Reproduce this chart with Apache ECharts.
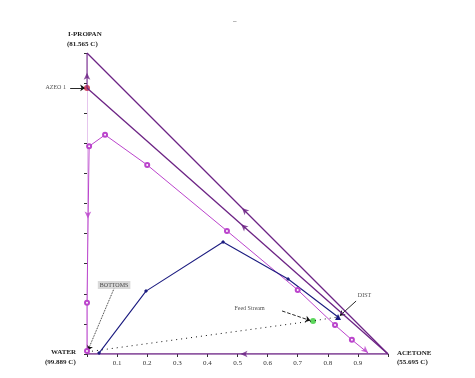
<!DOCTYPE html>
<html>
<head>
<meta charset="utf-8">
<script src="https://cdn.jsdelivr.net/npm/echarts@6/dist/echarts.min.js"></script>
<style>
  html, body { margin: 0; padding: 0; background: #fff; }
  #chart { width: 475px; height: 378px; }
</style>
</head>
<body>
<div id="chart"></div>
<script>
// ternary data: x = acetone fraction, y = isopropanol fraction
var xTicks = [0.1, 0.2, 0.3, 0.4, 0.5, 0.6, 0.7, 0.8, 0.9];
var outerEdge = [[0, 1], [1, 0]];
var azeoLine = [[0, 0.884], [1, 0]];
var azeoToTop = [[0, 0.884], [0, 1]];
var bottomEdge = [[1, 0], [0, 0]];
var residueCurve = [[0, 0.01], [0, 0.17], [0.007, 0.69], [0.06, 0.728], [0.2, 0.628],
  [0.465, 0.409], [0.70, 0.213], [0.824, 0.096], [0.88, 0.047], [0.934, 0.003]];
var profileCurve = [[0.04, 0.003], [0.196, 0.209], [0.452, 0.372], [0.668, 0.249], [0.834, 0.123]];
var massBalance = [[0, 0.007], [0.751, 0.11], [0.834, 0.123]];
var azeoPoint = [0, 0.884];
var feedPoint = [0.751, 0.11];

var darkPurple = '#6c2384';
var magenta = '#bb44cc';
var navy = '#1c1c80';
var font = 'Liberation Serif';

// arrows: [x, y, rotate, color]
var arrows = [
  [0.515, 0.485, 45, darkPurple],
  [0.512, 0.431, 48, darkPurple],
  [0, 0.934, 0, darkPurple],
  [0.51, 0, 90, darkPurple],
  [0.003, 0.45, 180, magenta],
  [0.934, 0.004, -130, magenta]
];

// annotation leaders: [from, to, line type]
var leaders = [
  [[0.09, 0.218], [0.003, 0.012], 'dotted'],
  [[0.648, 0.143], [0.742, 0.111], 'dashed'],
  [[0.894, 0.176], [0.84, 0.127], 'solid'],
  [[-0.056, 0.884], [-0.006, 0.884], 'solid']
];

var labelStyle = { fontFamily: font, fontSize: 6, color: '#222' };

var chart = echarts.init(document.getElementById('chart'));

var option = {
  animation: false,
  backgroundColor: '#fff',
  grid: { left: 87, top: 53, width: 301, height: 301 },
  xAxis: {
    type: 'value', min: 0, max: 1, interval: 0.1,
    splitLine: { show: false },
    axisLine: { show: false },
    axisTick: { show: true, length: 3, lineStyle: { color: '#333' } },
    axisLabel: {
      fontFamily: font, fontSize: 7, color: '#333', margin: 6,
      formatter: function (v) {
        var r = Math.round(v * 10) / 10;
        return xTicks.indexOf(r) >= 0 ? r.toFixed(1) : '';
      }
    }
  },
  yAxis: {
    type: 'value', min: 0, max: 1, interval: 0.1,
    splitLine: { show: false },
    axisLine: { show: true, lineStyle: { color: '#e6c6ee', width: 1 } },
    axisTick: { show: true, length: 3, lineStyle: { color: '#333' } },
    axisLabel: { show: false }
  },
  graphic: [
    { type: 'text', left: 68, top: 31, style: { text: 'I-PROPAN', font: 'bold 7px ' + font, fill: '#222' } },
    { type: 'text', left: 67, top: 41, style: { text: '(81.565 C)', font: 'bold 7px ' + font, fill: '#222' } },
    { type: 'text', left: 51, top: 349, style: { text: 'WATER', font: 'bold 7px ' + font, fill: '#222' } },
    { type: 'text', left: 45, top: 359, style: { text: '(99.889 C)', font: 'bold 7px ' + font, fill: '#222' } },
    { type: 'text', left: 397, top: 350, style: { text: 'ACETONE', font: 'bold 7px ' + font, fill: '#222' } },
    { type: 'text', left: 397, top: 359, style: { text: '(55.695 C)', font: 'bold 7px ' + font, fill: '#222' } },
    { type: 'text', left: 233, top: 18, style: { text: '–', font: '7px ' + font, fill: '#222' } }
  ],
  series: [
    { type: 'line', data: outerEdge, symbol: 'none', lineStyle: { color: darkPurple, width: 1.3 } },
    { type: 'line', data: azeoLine, symbol: 'none', lineStyle: { color: darkPurple, width: 1.3 } },
    { type: 'line', data: azeoToTop, symbol: 'none', lineStyle: { color: darkPurple, width: 1 } },
    { type: 'line', data: bottomEdge, symbol: 'none', lineStyle: { color: darkPurple, width: 1.3 } },
    {
      type: 'line', data: massBalance, symbol: 'none',
      lineStyle: { color: '#111', width: 1, type: [1, 4] }
    },
    {
      type: 'line',
      data: residueCurve.map(function (p, i) {
        return i === residueCurve.length - 1 ? { value: p, symbol: 'none' } : p;
      }),
      symbol: 'emptyCircle', symbolSize: 4,
      lineStyle: { color: magenta, width: 1 },
      itemStyle: { color: magenta, borderWidth: 0.8 }
    },
    {
      type: 'line',
      data: profileCurve.map(function (p, i) {
        return i === profileCurve.length - 1 ? { value: p, symbol: 'triangle', symbolSize: 6 } : p;
      }),
      symbol: 'diamond', symbolSize: 4,
      lineStyle: { color: navy, width: 1.1 },
      itemStyle: { color: navy }
    },
    {
      type: 'scatter', clip: false,
      data: arrows.map(function (a) {
        return { value: [a[0], a[1]], symbolRotate: a[2], itemStyle: { color: a[3] } };
      }),
      symbol: 'arrow', symbolSize: [5, 7]
    },
    {
      type: 'scatter', clip: false,
      data: [
        { value: azeoPoint, itemStyle: { color: '#c02040' } },
        { value: feedPoint, itemStyle: { color: '#33cc33' } }
      ],
      symbol: 'circle', symbolSize: 6
    },
    {
      type: 'lines', coordinateSystem: 'cartesian2d', clip: false,
      symbol: ['none', 'arrow'], symbolSize: 5,
      data: leaders.map(function (l) {
        return { coords: [l[0], l[1]], lineStyle: { type: l[2] } };
      }),
      lineStyle: { color: '#111', width: 0.9, opacity: 1 }
    },
    {
      type: 'scatter', clip: false, symbolSize: 0,
      data: [
        { value: [0.09, 0.229], label: { formatter: 'BOTTOMS', backgroundColor: '#cfcfcf', padding: [1, 2] } },
        { value: [0.54, 0.15], label: { formatter: 'Feed Stream' } },
        { value: [0.922, 0.195], label: { formatter: 'DIST' } },
        { value: [-0.07, 0.884], label: { formatter: 'AZEO 1', align: 'right' } }
      ],
      label: Object.assign({ show: true, position: 'inside' }, labelStyle)
    }
  ]
};

chart.setOption(option);
</script>
</body>
</html>
